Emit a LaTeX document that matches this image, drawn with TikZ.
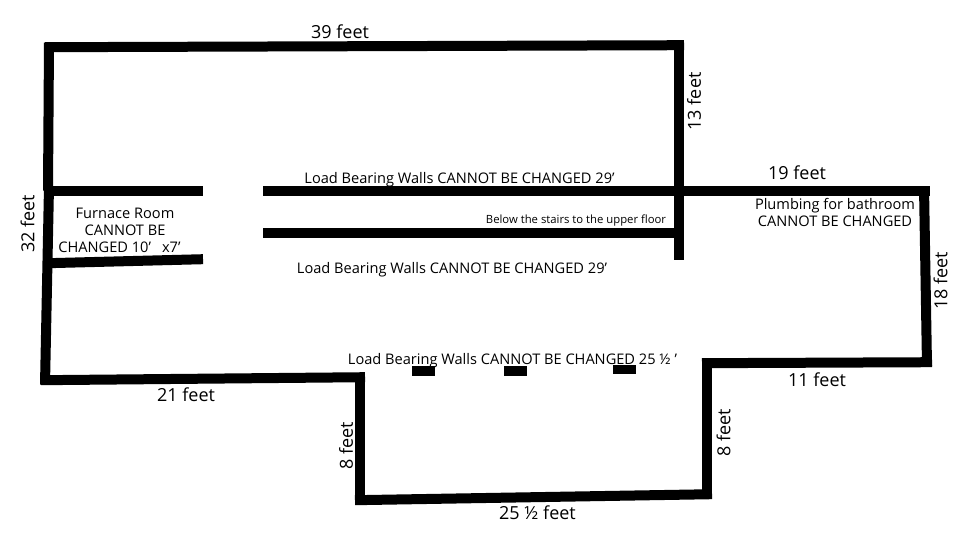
\documentclass[tikz,border=0pt]{standalone}
\usepackage{fontspec}
\setmainfont{Open Sans}
\begin{document}
\begin{tikzpicture}[x=1bp,y=-1bp,
  wall/.style={line width=10bp,line cap=butt,black},
  bar/.style={fill=black,draw=none},
  lbl/.style={font=\fontsize{14.6bp}{17bp}\selectfont,inner sep=0pt,align=center,text=black},
  dim/.style={font=\fontsize{18bp}{20bp}\selectfont,inner sep=0pt,text=black},
  small/.style={font=\fontsize{11.3bp}{13bp}\selectfont,inner sep=0pt,text=black}]
\useasboundingbox[fill=white] (0,0) rectangle (960,540);
\begin{scope}[yshift=-0.7bp]
% outer walls
\draw[wall] (45,46.5) -- (684,44.5);
\draw[wall] (49,42) -- (48,190);
\draw[wall] (49,186) -- (45,384);
\draw[wall] (41,379.5) -- (365,376.5);
\draw[wall] (360,372) -- (360,504);
\draw[wall] (355,499.5) -- (712,493.5);
\draw[wall] (707,498) -- (707,362);
\draw[wall] (702,362.5) -- (932,361.5);
\draw[wall] (927,365) -- (924,186);
% interior walls
\draw[wall] (263,190.5) -- (930,190.5);
\draw[wall] (48,190.5) -- (203,190.5);
\draw[wall] (263,232.5) -- (679,232.5);
\draw[wall] (679,42) -- (679,259);
\draw[wall] (48,262.5) -- (203,258.5);
\end{scope}
% short bars
\fill[bar] (412,366) rectangle (435,376);
\fill[bar] (504,366) rectangle (527,376);
\fill[bar] (613,365) rectangle (636,374);
% dimension labels
\node[dim] (d39) at (340,32) {39 feet};
\node[dim,rotate=90] (d13) at (694,101.5) {13 feet};
\node[dim] (d19) at (797,173) {19 feet};
\node[dim,rotate=90] (d32) at (27.5,224) {32 feet};
\node[dim,rotate=90] (d18) at (940.5,281) {18 feet};
\node[dim] (d11) at (817,380) {11 feet};
\node[dim] (d21) at (186,395) {21 feet};
\node[dim,rotate=90] (d8a) at (346,445.5) {8 feet};
\node[dim,rotate=90] (d8b) at (723.5,432.5) {8 feet};
\node[dim] (d25) at (537.5,513) {25 ½ feet};
% notes
\node[lbl] (furn1) at (125,213) {Furnace Room};
\node[lbl] (furn2) at (125,230) {CANNOT BE};
\node[lbl] (furn3) at (119.5,247) {CHANGED 10’\hspace{11bp}x7’};
\node[lbl] (lb1) at (459.5,180) {Load Bearing Walls CANNOT BE CHANGED 29’};
\node[lbl] (lb2) at (452,270) {Load Bearing Walls CANNOT BE CHANGED 29’};
\node[lbl] (lb3) at (512.5,360.5) {Load Bearing Walls CANNOT BE CHANGED 25 ½ ’};
\node[small] (stairs) at (576,221) {Below the stairs to the upper floor};
\node[lbl] (plumb) at (835,212.5) {Plumbing for bathroom\\CANNOT BE CHANGED};
\end{tikzpicture}
\end{document}
